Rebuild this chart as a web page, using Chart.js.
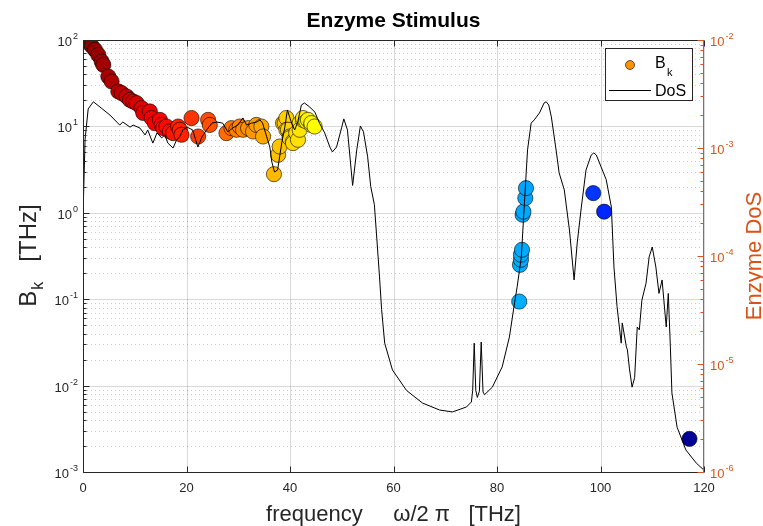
<!DOCTYPE html>
<html><head><meta charset="utf-8">
<script src="https://cdn.jsdelivr.net/npm/chart.js@4/dist/chart.umd.min.js"></script>
<style>html,body{margin:0;padding:0;background:#fff;overflow:hidden}canvas{display:block}</style>
</head><body>
<canvas id="c" width="763" height="526"></canvas>
<script>
// ---------- data ----------
const bkFreq = [1.02,1.67,2.32,2.96,3.6,3.92,4.89,5.53,6.82,7.47,8.43,9.07,9.71,10.36,11.32,11.64,12.93,13.25,13.89,14.86,15.18,15.5,16.14,16.79,17.43,18.4,18.72,19.04,20.97,22.25,24.18,24.5,27.72,28.69,29.65,30.29,30.93,31.9,32.86,33.5,34.47,34.79,36.9,37.7,38.01,38.65,38.97,39.3,39.3,39.6,39.94,39.94,40.58,40.58,41.2,41.54,41.87,41.87,42.5,42.51,43.15,43.47,44.1,44.12,44.76,
  84.3,84.44,84.63,84.63,84.83,84.95,85.1,85.47,85.6,98.6,100.7,117.2];
const bkValue = [93.5,85.7,77.1,67.4,56.4,51.6,37.8,33.1,25.4,24.3,22.2,20.3,19.4,18.6,16.3,14.3,14.9,12.5,10.9,11.9,10.4,9.55,9.97,8.73,8.36,9.97,9.14,8.0,12.5,7.64,11.9,10.4,8.36,9.55,9.14,9.97,9.14,9.55,8.73,10.4,9.97,7.64,2.8,4.69,5.85,10.9,10.9,12.5,9.14,9.14,7.64,7.32,6.69,6.41,8.36,7.0,10.9,9.14,11.9,12.5,11.4,11.9,10.4,10.9,9.97,
  0.094,0.25,0.286,0.327,0.373,0.95,1.03,1.48,1.93,1.69,1.03,0.00242];
const dosFreq = [0.1,0.4,1.0,2.0,3.5,5.2,7.1,7.7,9.1,9.7,11.0,12.0,12.5,13.5,14.3,15.2,15.8,16.4,17.4,18.1,18.7,19.3,20.1,21.2,22.2,23.0,23.9,24.9,25.9,27.0,28.0,28.9,29.9,30.9,31.6,32.6,33.6,34.2,34.7,35.5,36.1,36.5,37.0,37.6,38.0,38.4,39.0,39.5,40.3,40.9,41.5,42.2,42.8,43.8,44.8,45.7,46.7,47.7,48.2,49.0,50.0,50.4,51.1,52.1,52.9,53.6,54.2,55.0,55.6,56.3,56.7,57.3,57.7,58.3,59.8,62.5,65.6,68.9,71.4,74.1,75.05,75.3,75.6,75.9,76.2,76.6,76.95,77.3,77.6,79.1,81.0,82.4,83.4,83.9,84.7,85.3,85.9,86.6,87.2,88.2,89.1,89.5,90.0,90.5,91.5,92.0,93.0,94.0,94.9,95.5,96.3,97.2,98.2,98.7,99.2,100.1,101.1,102.1,102.6,103.2,104.0,104.2,105.0,105.2,105.6,106.1,106.6,107.1,107.5,108.0,108.8,109.4,110.0,110.7,111.3,111.9,112.7,113.1,113.5,113.8,114.8,116.5,118.5,120];
const dosValue = [3.5e-4,1.2e-3,2.3e-3,2.68e-3,2.35e-3,2.02e-3,1.63e-3,1.74e-3,1.56e-3,1.63e-3,1.53e-3,1.32e-3,1.47e-3,1.11e-3,1.38e-3,1.24e-3,1.32e-3,1.11e-3,1.0e-3,1.19e-3,1.27e-3,1.47e-3,1.56e-3,1.47e-3,1.02e-3,1.27e-3,1.47e-3,1.70e-3,1.74e-3,1.70e-3,1.41e-3,1.53e-3,1.63e-3,1.90e-3,1.63e-3,1.70e-3,1.74e-3,1.82e-3,1.70e-3,1.27e-3,1.02e-3,7.4e-4,6.0e-4,6.25e-4,8.3e-4,1.11e-3,1.56e-3,2.25e-3,1.70e-3,1.47e-3,1.74e-3,2.50e-3,2.61e-3,2.40e-3,2.15e-3,1.70e-3,1.38e-3,1.02e-3,9.2e-4,1.02e-3,1.56e-3,1.86e-3,1.47e-3,4.5e-4,9.6e-4,1.60e-3,1.41e-3,8.3e-4,4.4e-4,3.0e-4,1.63e-4,6.4e-5,3.2e-5,1.56e-5,8.8e-6,5.7e-6,4.35e-6,3.75e-6,3.6e-6,4.0e-6,4.45e-6,5.7e-6,1.56e-5,5.7e-6,4.9e-6,5.6e-6,1.6e-5,5.5e-6,5.2e-6,6.1e-6,9.4e-6,1.78e-5,3.7e-5,5.2e-5,9.8e-5,3.1e-4,9.6e-4,1.70e-3,1.82e-3,2.11e-3,2.61e-3,2.68e-3,2.5e-3,1.94e-3,9.0e-4,5.9e-4,4.1e-4,1.74e-4,6.0e-5,1.32e-4,2.84e-4,6.25e-4,8.6e-4,9.0e-4,8.6e-4,6.7e-4,5.1e-4,2.84e-4,7.9e-5,3.4e-5,1.56e-5,2.4e-5,1.44e-5,1.35e-5,9.0e-6,6.1e-6,7.5e-6,2.2e-5,2.07e-5,3.9e-5,5.6e-5,9.8e-5,1.21e-4,7.9e-5,4.5e-5,6.0e-5,2.2e-5,4.5e-5,1.44e-5,5.4e-6,2.6e-6,1.6e-6,1.21e-6,1.04e-6];
const xTicks = [0,20,40,60,80,100,120];
const leftExps = [-3,-2,-1,0,1,2];
const rightExps = [-6,-5,-4,-3,-2];
const titleText = 'Enzyme Stimulus';
const xTitle = 'frequency     \u03C9/2 \u03C0   [THz]';
const yTitleMain = 'B', yTitleSub = 'k', yTitleRest = '   [THz]';
const y2Title = 'Enzyme DoS';
const legendLabels = ['B', 'k', 'DoS'];

// ---------- style ----------
const FONT = "'Liberation Sans', Arial, Helvetica, sans-serif";
const AX = '#262626';
const ORANGE = '#D95319';
function clamp(v){return Math.max(0,Math.min(1,v));}
function jet(c){
  const r = clamp(Math.min(4*c-1.5, -4*c+4.5));
  const g = clamp(Math.min(4*c-0.5, -4*c+3.5));
  const b = clamp(Math.min(4*c+0.5, -4*c+2.5));
  return `rgb(${Math.round(r*255)},${Math.round(g*255)},${Math.round(b*255)})`;
}
const bkColors = bkFreq.map(f => jet(1 - f/120));

function hline(ctx,x1,x2,y){ctx.beginPath();ctx.moveTo(x1,y);ctx.lineTo(x2,y);ctx.stroke();}
function vline(ctx,x,y1,y2){ctx.beginPath();ctx.moveTo(x,y1);ctx.lineTo(x,y2);ctx.stroke();}
function powLabel(ctx, exp, x, y, align, color){
  const base='10', sup=String(exp);
  ctx.font = `13px ${FONT}`; const wb = ctx.measureText(base).width;
  ctx.font = `9px ${FONT}`; const ws = ctx.measureText(sup).width;
  const x0 = align==='right' ? x - wb - ws - 1 : x;
  ctx.fillStyle = color; ctx.textAlign='left'; ctx.textBaseline='alphabetic';
  ctx.font = `13px ${FONT}`; ctx.fillText(base, x0, y+6);
  ctx.font = `9px ${FONT}`; ctx.fillText(sup, x0+wb+1, y-1);
}

const deco = {
  id:'deco',
  beforeDatasetsDraw(chart){
    const {ctx, chartArea:a, scales} = chart;
    const xs=scales.x, ys=scales.y;
    ctx.save();
    ctx.lineWidth=1;
    ctx.strokeStyle='rgba(0,0,0,0.2)';
    ctx.setLineDash([1,3]);
    for (const e of leftExps.slice(0,-1)) for (let m=2;m<=9;m++){
      const py=Math.round(ys.getPixelForValue(m*Math.pow(10,e)))+0.5; hline(ctx,a.left,a.right,py);
    }
    ctx.setLineDash([]);
    ctx.strokeStyle='rgba(0,0,0,0.15)';
    for (const e of leftExps){const py=Math.round(ys.getPixelForValue(Math.pow(10,e)))+0.5; hline(ctx,a.left,a.right,py);}
    for (const v of xTicks){const px=Math.round(xs.getPixelForValue(v))+0.5; vline(ctx,px,a.top,a.bottom);}
    ctx.restore();
  },
  afterDraw(chart){
    const {ctx, chartArea:a, scales} = chart;
    const xs=scales.x, ys=scales.y, y2=scales.y2;
    ctx.save();
    ctx.lineWidth=1;
    ctx.strokeStyle=AX;
    const L=Math.round(a.left)+0.5, R=Math.round(a.right)-0.5, T=Math.round(a.top)+0.5, B=Math.round(a.bottom)+0.5;
    hline(ctx,L,R,T); hline(ctx,L,R,B); vline(ctx,L,T,B);
    for (const v of xTicks){const px=Math.round(xs.getPixelForValue(v))+0.5; vline(ctx,px,B,B-6); vline(ctx,px,T,T+6);}
    for (const e of leftExps){
      const py=Math.round(ys.getPixelForValue(Math.pow(10,e)))+0.5; hline(ctx,L,L+6,py);
      if (e<leftExps[leftExps.length-1]) for(let m=2;m<=9;m++){const q=Math.round(ys.getPixelForValue(m*Math.pow(10,e)))+0.5; hline(ctx,L,L+3,q);}
    }
    ctx.strokeStyle=ORANGE;
    vline(ctx,R,T,B);
    for (const e of rightExps){
      const py=Math.round(y2.getPixelForValue(Math.pow(10,e)))+0.5; hline(ctx,R,R-6,py);
      if (e<rightExps[rightExps.length-1]) for(let m=2;m<=9;m++){const q=Math.round(y2.getPixelForValue(m*Math.pow(10,e)))+0.5; hline(ctx,R,R-3,q);}
    }
    for (const v of xTicks){ctx.fillStyle=AX; ctx.font=`13px ${FONT}`; ctx.textAlign='center'; ctx.textBaseline='alphabetic'; ctx.fillText(String(v), xs.getPixelForValue(v), B+19);}
    for (const e of leftExps) powLabel(ctx,e,a.left-5,ys.getPixelForValue(Math.pow(10,e)),'right',AX);
    for (const e of rightExps) powLabel(ctx,e,a.right+6,y2.getPixelForValue(Math.pow(10,e)),'left',ORANGE);
    // title
    ctx.fillStyle='#000'; ctx.font=`bold 21px ${FONT}`; ctx.textAlign='center';
    ctx.fillText(titleText,(a.left+a.right)/2,27);
    // x title
    ctx.fillStyle=AX; ctx.font=`22px ${FONT}`;
    ctx.fillText(xTitle,(a.left+a.right)/2,521);
    // left y title
    ctx.save();
    ctx.translate(36,(a.top+a.bottom)/2); ctx.rotate(-Math.PI/2);
    ctx.font=`24px ${FONT}`; const w1=ctx.measureText(yTitleMain).width;
    ctx.font=`16px ${FONT}`; const w2=ctx.measureText(yTitleSub).width;
    ctx.font=`24px ${FONT}`; const w3=ctx.measureText(yTitleRest).width;
    let sx=-(w1+w2+w3)/2; ctx.textAlign='left'; ctx.fillStyle=AX;
    ctx.font=`24px ${FONT}`; ctx.fillText(yTitleMain,sx,0);
    ctx.font=`16px ${FONT}`; ctx.fillText(yTitleSub,sx+w1+1,7);
    ctx.font=`24px ${FONT}`; ctx.fillText(yTitleRest,sx+w1+w2+1,0);
    ctx.restore();
    // right y title
    ctx.save();
    ctx.translate(761,(a.top+a.bottom)/2); ctx.rotate(-Math.PI/2);
    ctx.fillStyle=ORANGE; ctx.font=`22px ${FONT}`; ctx.textAlign='center';
    ctx.fillText(y2Title,0,0);
    ctx.restore();
    // legend
    ctx.fillStyle='#fff'; ctx.fillRect(605,48,88,53);
    ctx.strokeStyle=AX; ctx.lineWidth=1; ctx.strokeRect(605.5,48.5,87,52);
    ctx.beginPath(); ctx.arc(630,65,4.5,0,Math.PI*2); ctx.fillStyle='rgb(255,145,0)'; ctx.fill();
    ctx.lineWidth=0.6; ctx.strokeStyle='#000'; ctx.stroke();
    ctx.fillStyle='#000'; ctx.textAlign='left';
    ctx.font=`16px ${FONT}`; ctx.fillText(legendLabels[0],655,68);
    ctx.font=`11px ${FONT}`; ctx.fillText(legendLabels[1],667,76);
    ctx.font=`16px ${FONT}`; ctx.fillText(legendLabels[2],655,96);
    ctx.lineWidth=1; ctx.strokeStyle='#000'; hline(ctx,609,651,90.5);
    ctx.restore();
  }
};

new Chart(document.getElementById('c'), {
  data:{
    datasets:[
      {type:'line', label:'DoS', data:dosFreq.map((f,i)=>({x:f,y:dosValue[i]})), yAxisID:'y2',
       borderColor:'#000', borderWidth:1, pointRadius:0, tension:0, fill:false, order:0},
      {type:'scatter', label:'Bk', data:bkFreq.map((f,i)=>({x:f,y:bkValue[i]})), yAxisID:'y',
       backgroundColor:bkColors, borderColor:'rgba(0,0,0,0.85)', borderWidth:0.7, pointRadius:7.6, pointHoverRadius:7.6, order:1}
    ]
  },
  options:{
    responsive:false, devicePixelRatio:1, animation:false, events:[],
    layout:{padding:{top:40,left:0,right:0,bottom:0}},
    plugins:{legend:{display:false}, tooltip:{enabled:false}, title:{display:false}},
    scales:{
      x:{type:'linear', min:0, max:120, ticks:{display:false}, grid:{display:false}, border:{display:false},
         afterFit(s){s.height=54;}},
      y:{type:'logarithmic', position:'left', min:1e-3, max:1e2, ticks:{display:false}, grid:{display:false}, border:{display:false},
         afterFit(s){s.width=83;}},
      y2:{type:'logarithmic', position:'right', min:1e-6, max:1e-2, ticks:{display:false}, grid:{display:false}, border:{display:false},
         afterFit(s){s.width=59;}}
    }
  },
  plugins:[deco]
});
</script>
</body></html>
